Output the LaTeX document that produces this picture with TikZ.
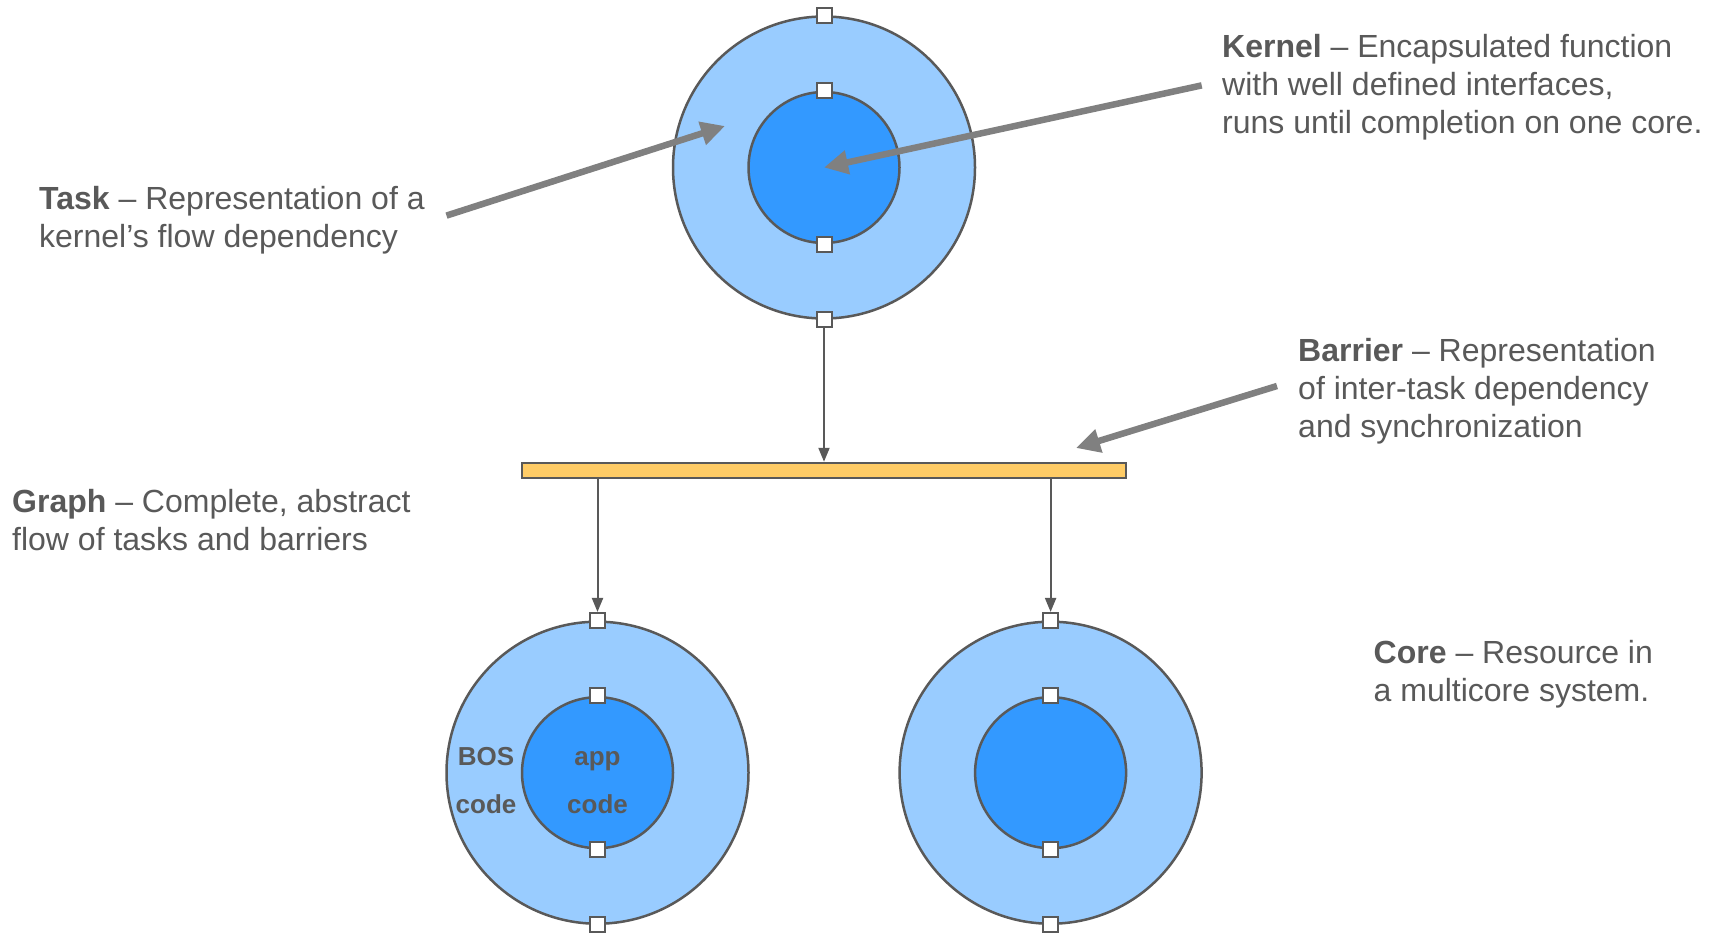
\documentclass[tikz,border=0pt]{standalone}
\usepackage{fontspec}
\setmainfont{Liberation Sans}
\usetikzlibrary{arrows.meta}
\definecolor{ink}{HTML}{595959}
\definecolor{ringblue}{HTML}{99CCFF}
\definecolor{coreblue}{HTML}{3399FF}
\definecolor{barfill}{HTML}{FFCC66}
\definecolor{callout}{HTML}{808080}

\begin{document}
\begin{tikzpicture}[x=1pt,y=-1pt,
  outer/.style={circle, draw=ink, line width=2.5pt, fill=ringblue, minimum size=302pt, inner sep=0pt},
  inner/.style={circle, draw=ink, line width=2.5pt, fill=coreblue, minimum size=151pt, inner sep=0pt},
  port/.style={rectangle, draw=ink, line width=2pt, fill=white, minimum size=15pt, inner sep=0pt},
  barrier/.style={rectangle, draw=ink, line width=2.5pt, fill=barfill, minimum width=604pt, minimum height=15pt, inner sep=0pt},
  flow/.style={draw=ink, line width=2pt, -{Triangle[length=14pt,width=11pt]}},
  pointer/.style={draw=callout, line width=6.5pt, -{Triangle[length=24pt,width=23pt]}},
  label/.style={anchor=base west, align=left, text=ink, font=\fontsize{32}{38}\selectfont, inner sep=0pt},
  codetext/.style={anchor=base, text=ink, font=\fontsize{26}{30}\selectfont\bfseries, inner sep=0pt}
]
\fill[white] (0,0) rectangle (1716,933);
\useasboundingbox (0,0) rectangle (1716,933);

% task with its kernel
\node[outer] (task) at (824,167.5) {};
\node[inner] (kernel) at (task.center) {};
\node[port] (tpN) at (task.north) {};
\node[port] (tpS) at (task.south) {};
\node[port] (kpN) at (kernel.north) {};
\node[port] (kpS) at (kernel.south) {};

% barrier
\node[barrier] (bar) at (824,470.5) {};

% two cores
\node[outer] (lcore) at (597.5,772.7) {};
\node[inner] (lapp) at (lcore.center) {};
\node[port] (lpN) at (lcore.north) {};
\node[port] (lpS) at (lcore.south) {};
\node[port] (lapN) at (lapp.north) {};
\node[port] (lapS) at (lapp.south) {};

\node[outer] (rcore) at (1050.6,772.7) {};
\node[inner] (rapp) at (rcore.center) {};
\node[port] (rpN) at (rcore.north) {};
\node[port] (rpS) at (rcore.south) {};
\node[port] (rapN) at (rapp.north) {};
\node[port] (rapS) at (rapp.south) {};

% code labels
\node[codetext] (bos1) at (486,765.7) {BOS};
\node[codetext] (bos2) at (486,813.3) {code};
\node[codetext] (app1) at (597.5,765.7) {app};
\node[codetext] (app2) at (597.5,813.3) {code};

% flow connectors
\draw[flow] (tpS.south) -- (tpS.south |- bar.north);
\draw[flow] (bar.south -| lpN) -- (lpN.north);
\draw[flow] (bar.south -| rpN) -- (rpN.north);

% text blocks (placed by the baseline of their last line)
\node[label] (tasktxt) at (39,248) {\textbf{Task} – Representation of a\\kernel’s flow dependency};
\node[label] (kerneltxt) at (1222,134) {\textbf{Kernel} – Encapsulated function\\with well defined interfaces,\\runs until completion on one core.};
\node[label] (barriertxt) at (1298,437.5) {\textbf{Barrier} – Representation\\of inter-task dependency\\and synchronization};
\node[label] (graphtxt) at (12,550.5) {\textbf{Graph} – Complete, abstract\\flow of tasks and barriers};
\node[label] (coretxt) at (1373.5,701.6) {\textbf{Core} – Resource in\\a multicore system.};

% callout pointers
\coordinate (taskfrom) at (446.5,215.6);
\coordinate (taskto) at (725,126);
\coordinate (kernelfrom) at (1201.7,85.4);
\coordinate (barrierfrom) at (1277,386);
\coordinate (barrierto) at (1076,448);
\draw[pointer] (taskfrom) -- (taskto);
\draw[pointer] (kernelfrom) -- (kernel.center);
\draw[pointer] (barrierfrom) -- (barrierto);
\end{tikzpicture}
\end{document}
